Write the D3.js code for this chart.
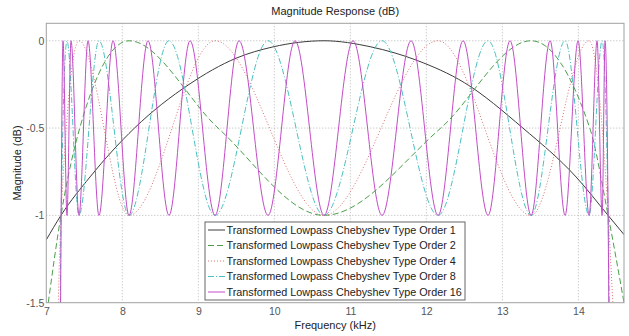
<!DOCTYPE html>
<html>
<head>
<meta charset="utf-8">
<script src="https://cdn.jsdelivr.net/npm/d3@7"></script>
<style>
  body { margin: 0; background: #fff; }
  text { font-family: 'Liberation Sans', Arial, sans-serif; }
</style>
</head>
<body>
<svg class="chart"></svg>
<script>
// values (kHz, dB)
const order1Freq = [7.0, 7.193, 7.575, 8.16, 8.878, 9.496, 9.983, 10.654, 11.27, 11.88, 12.5, 13.27, 13.97, 14.391, 14.6]
const order1Mag = [-1.14, -1, -0.78, -0.5, -0.25, -0.1, -0.035, 0, -0.035, -0.113, -0.24, -0.5, -0.78, -1, -1.11]

const order2Freq = [7.026, 7.193, 7.44, 8.088, 9.26, 10.654, 12.19, 13.378, 14.15, 14.391, 14.6]
const order2Mag = [-1.5, -1, -0.5, 0, -0.5, -1, -0.5, 0, -0.5, -1, -1.5]

const order4Freq = [7.158, 7.193, 7.43, 8.088, 9.22, 10.654, 12.154, 13.378, 14.141, 14.391, 14.453]
const order4Mag = [-1.5, -1, 0, -1, 0, -1, 0, -1, 0, -1, -1.5]

const order8Freq = [7.185, 7.195, 7.272, 7.43, 7.693, 8.088, 8.614, 9.22, 9.917, 10.654,
  11.417, 12.154, 12.812, 13.378, 13.825, 14.141, 14.312, 14.391, 14.405]
const order8Mag = [-1.5, -1, 0, -1, 0, -1, 0, -1, 0, -1, 0, -1, 0, -1, 0, -1, 0, -1, -1.5]

const order16Freq = [7.188, 7.195, 7.22, 7.272, 7.325, 7.43, 7.549, 7.693, 7.878, 8.088, 8.338,
  8.614, 8.891, 9.22, 9.536, 9.917, 10.272, 10.654, 11.036, 11.417, 11.799, 12.154, 12.483,
  12.812, 13.101, 13.378, 13.628, 13.825, 13.996, 14.141, 14.246, 14.312, 14.351, 14.391, 14.4]
const order16Mag = [-1.5, -1, 0, -1, 0, -1, 0, -1, 0, -1, 0, -1, 0, -1, 0, -1, 0, -1, 0, -1,
  0, -1, 0, -1, 0, -1, 0, -1, 0, -1, 0, -1, 0, -1, -1.5]

const legendLabels = [
  'Transformed Lowpass Chebyshev Type Order 1',
  'Transformed Lowpass Chebyshev Type Order 2',
  'Transformed Lowpass Chebyshev Type Order 4',
  'Transformed Lowpass Chebyshev Type Order 8',
  'Transformed Lowpass Chebyshev Type Order 16'
]
const xTicks = [7, 8, 9, 10, 11, 12, 13, 14]
const yTicks = [0, -0.5, -1, -1.5]

const width = 629
const height = 336
const margin = { top: 23.3, right: 5, bottom: 33.3, left: 46.3 }

const series = [
  { f: order1Freq, m: order1Mag, color: '#3c3c3c', dash: null },
  { f: order2Freq, m: order2Mag, color: '#4aa04a', dash: '6,3' },
  { f: order4Freq, m: order4Mag, color: '#e07070', dash: '1,2' },
  { f: order8Freq, m: order8Mag, color: '#4cc0c0', dash: '6,2,1,2' },
  { f: order16Freq, m: order16Mag, color: '#c24cc6', dash: null }
]

const x = d3.scaleLinear().domain([7, 14.6]).range([margin.left, width - margin.right])
const y = d3.scaleLinear().domain([-1.5, 0.1]).range([height - margin.bottom, margin.top])

const svg = d3.select('.chart').attr('width', width).attr('height', height)

svg.append('defs').append('clipPath').attr('id', 'plot')
  .append('rect')
  .attr('x', margin.left).attr('y', margin.top)
  .attr('width', x.range()[1] - margin.left)
  .attr('height', y.range()[0] - margin.top)

// grid
const grid = svg.append('g').attr('stroke', '#b8b8b8').attr('stroke-dasharray', '1,2')
grid.selectAll('.gx').data(xTicks.slice(1)).join('line')
  .attr('x1', d => x(d)).attr('x2', d => x(d))
  .attr('y1', margin.top).attr('y2', y.range()[0])
grid.selectAll('.gy').data(yTicks.slice(0, 3)).join('line')
  .attr('y1', d => y(d)).attr('y2', d => y(d))
  .attr('x1', margin.left).attr('x2', x.range()[1])

// curves
const line = d3.line().x(d => x(d[0])).y(d => y(d[1])).curve(d3.curveMonotoneX)
svg.append('g').attr('clip-path', 'url(#plot)')
  .selectAll('path').data(series).join('path')
  .attr('fill', 'none')
  .attr('stroke', d => d.color)
  .attr('stroke-width', 1)
  .attr('stroke-dasharray', d => d.dash)
  .attr('d', d => line(d.f.map((v, i) => [v, d.m[i]])))

// frame
svg.append('rect')
  .attr('x', margin.left).attr('y', margin.top)
  .attr('width', x.range()[1] - margin.left)
  .attr('height', y.range()[0] - margin.top)
  .attr('fill', 'none').attr('stroke', '#a0a0a0')

// axes
const xAxis = svg.append('g')
  .attr('transform', `translate(0,${y.range()[0]})`)
  .call(d3.axisBottom(x).tickValues(xTicks).tickSize(0).tickPadding(5))
xAxis.select('.domain').remove()
xAxis.selectAll('text').attr('fill', '#555').attr('font-size', 10.5)

const yAxis = svg.append('g')
  .attr('transform', `translate(${margin.left},0)`)
  .call(d3.axisLeft(y).tickValues(yTicks).tickFormat(d => String(d)).tickSize(0).tickPadding(2))
yAxis.select('.domain').remove()
yAxis.selectAll('text').attr('fill', '#555').attr('font-size', 10.5)

// titles
svg.append('text')
  .attr('x', (margin.left + x.range()[1]) / 2).attr('y', 15)
  .attr('text-anchor', 'middle').attr('font-size', 11).attr('fill', '#222')
  .text('Magnitude Response (dB)')
svg.append('text')
  .attr('x', (margin.left + x.range()[1]) / 2).attr('y', 329)
  .attr('text-anchor', 'middle').attr('font-size', 11).attr('fill', '#222')
  .text('Frequency (kHz)')
svg.append('text')
  .attr('transform', `translate(21,${(margin.top + y.range()[0]) / 2}) rotate(-90)`)
  .attr('text-anchor', 'middle').attr('font-size', 11).attr('fill', '#222')
  .text('Magnitude (dB)')

// legend
const legend = svg.append('g').attr('transform', 'translate(205,222)')
legend.append('rect')
  .attr('width', 260).attr('height', 78)
  .attr('fill', '#fff').attr('stroke', '#666')
const rows = legend.selectAll('.row').data(series).join('g')
  .attr('transform', (d, i) => `translate(0,${8 + i * 15.5})`)
rows.append('line')
  .attr('x1', 3).attr('x2', 20)
  .attr('stroke', d => d.color).attr('stroke-dasharray', d => d.dash)
rows.append('text')
  .attr('x', 21.5).attr('dy', '0.35em')
  .attr('font-size', 10.8).attr('fill', '#222')
  .text((d, i) => legendLabels[i])
</script>
</body>
</html>
